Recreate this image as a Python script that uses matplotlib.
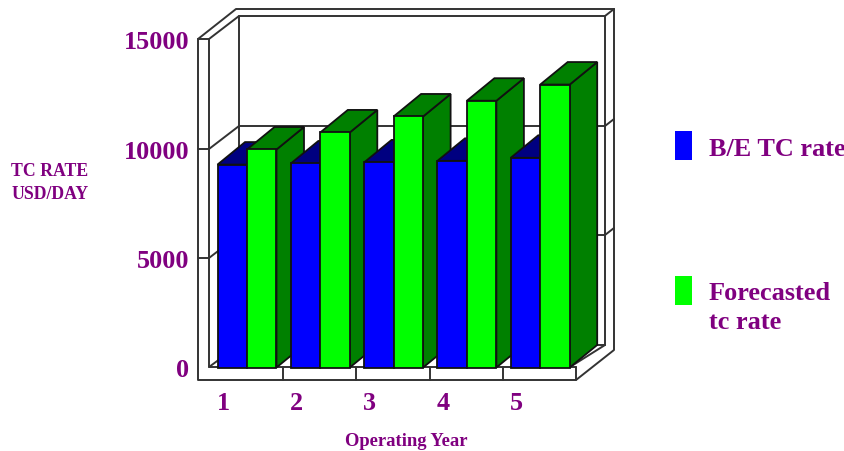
import matplotlib
matplotlib.use('Agg')
import matplotlib.pyplot as plt
from matplotlib.patches import Polygon, Rectangle

years = [1, 2, 3, 4, 5]
be_rate = [9280, 9330, 9380, 9450, 9590]
forecast_rate = [9970, 10750, 11480, 12200, 12940]
y_ticks = [0, 5000, 10000, 15000]

W, H = 845, 452
PURPLE = '#800080'
EDGE = '#111111'
plt.rcParams['font.family'] = ['Liberation Serif']
plt.rcParams['font.weight'] = 'bold'

fig = plt.figure(figsize=(W / 100, H / 100), dpi=100)

# pixel-space layer for the box, legend and captions
bg = fig.add_axes([0, 0, 1, 1])
bg.set_xlim(0, W)
bg.set_ylim(H, 0)
bg.axis('off')

def line(xs, ys, lw=1.4, color='#333333'):
    bg.plot(xs, ys, color=color, lw=lw, solid_capstyle='round')

# outer and inner edges of the 3d box
line([198, 198, 576, 614, 614], [40, 381, 381, 351, 10])
line([198, 236, 614], [40, 10, 10])
line([209, 239, 605, 605], [40, 17, 17, 346])
line([209, 209, 576], [40, 368, 368])
line([576, 576], [368, 381])
line([198, 209], [40, 40])
line([605, 614], [17, 10])
line([209, 239, 239], [368, 346, 17])
line([239, 605], [346, 346])
line([570, 605], [368, 346])
for x in [283, 356, 430, 503]:
    line([x, x], [368, 381])
for y in [150, 259]:
    line([198, 209, 239, 605, 614], [y, y, y - 23, y - 23, y - 30])

# bars sit in their own axes, scaled so the front plane is USD/day
x0 = 209
group_px = 73.3
left_cat = 1 - (247 - x0) / group_px
ax = fig.add_axes([x0 / W, (H - 368.5) / H, 367 / W, 328 / H])
ax.patch.set_alpha(0)
ax.set_xlim(left_cat, left_cat + 367 / group_px)
ax.set_ylim(0, 15000)
for s in ax.spines.values():
    s.set_visible(False)

bar_w = 29.5 / group_px
dx = 27.5 / group_px
dy = 22.5 * 15000 / 328

def bar3d(x, v, front, dark, z):
    ax.add_patch(Polygon([(x + bar_w, 0), (x + bar_w + dx, dy), (x + bar_w + dx, v + dy), (x + bar_w, v)],
                         fc=dark, ec=EDGE, lw=1.3, zorder=z, clip_on=False))
    ax.add_patch(Polygon([(x, v), (x + dx, v + dy), (x + bar_w + dx, v + dy), (x + bar_w, v)],
                         fc=dark, ec=EDGE, lw=1.3, zorder=z, clip_on=False))
    ax.bar(x, v, bar_w, align='edge', color=front, edgecolor=EDGE, lw=1.3, zorder=z + 0.5, clip_on=False)

for i, yr in enumerate(years):
    bar3d(yr - bar_w, be_rate[i], '#0000ff', '#000080', 3 + 2 * i)
    bar3d(yr, forecast_rate[i], '#00ff00', '#008000', 4 + 2 * i)

ax.set_yticks(y_ticks)
ax.set_yticklabels([str(t) for t in y_ticks], fontsize=18.8, color=PURPLE)
ax.tick_params(axis='y', length=0, pad=14)
ax.set_xticks([])
for yr in years:
    ax.annotate(str(yr), (yr - 24 / group_px, 0), xytext=(0, -35), textcoords='offset pixels',
                ha='center', va='center', fontsize=18.8, color=PURPLE)

# captions
bg.text(50, 183, 'TC RATE\nUSD/DAY', ha='center', va='center', fontsize=12.8, color=PURPLE, linespacing=1.5)
bg.text(406, 442, 'Operating Year', ha='center', va='center', fontsize=13.4, color=PURPLE)

# legend
bg.add_patch(Rectangle((675, 132), 17, 29, fc='#0000ff', ec='none'))
bg.add_patch(Rectangle((675, 277), 17, 29, fc='#00ff00', ec='none'))
bg.text(709, 150, 'B/E TC rate', ha='left', va='center', fontsize=18.9, color=PURPLE)
bg.text(709, 308, 'Forecasted\ntc rate', ha='left', va='center', fontsize=18.9, color=PURPLE, linespacing=1.35)

fig.savefig('out.png', dpi=100, facecolor='white')
